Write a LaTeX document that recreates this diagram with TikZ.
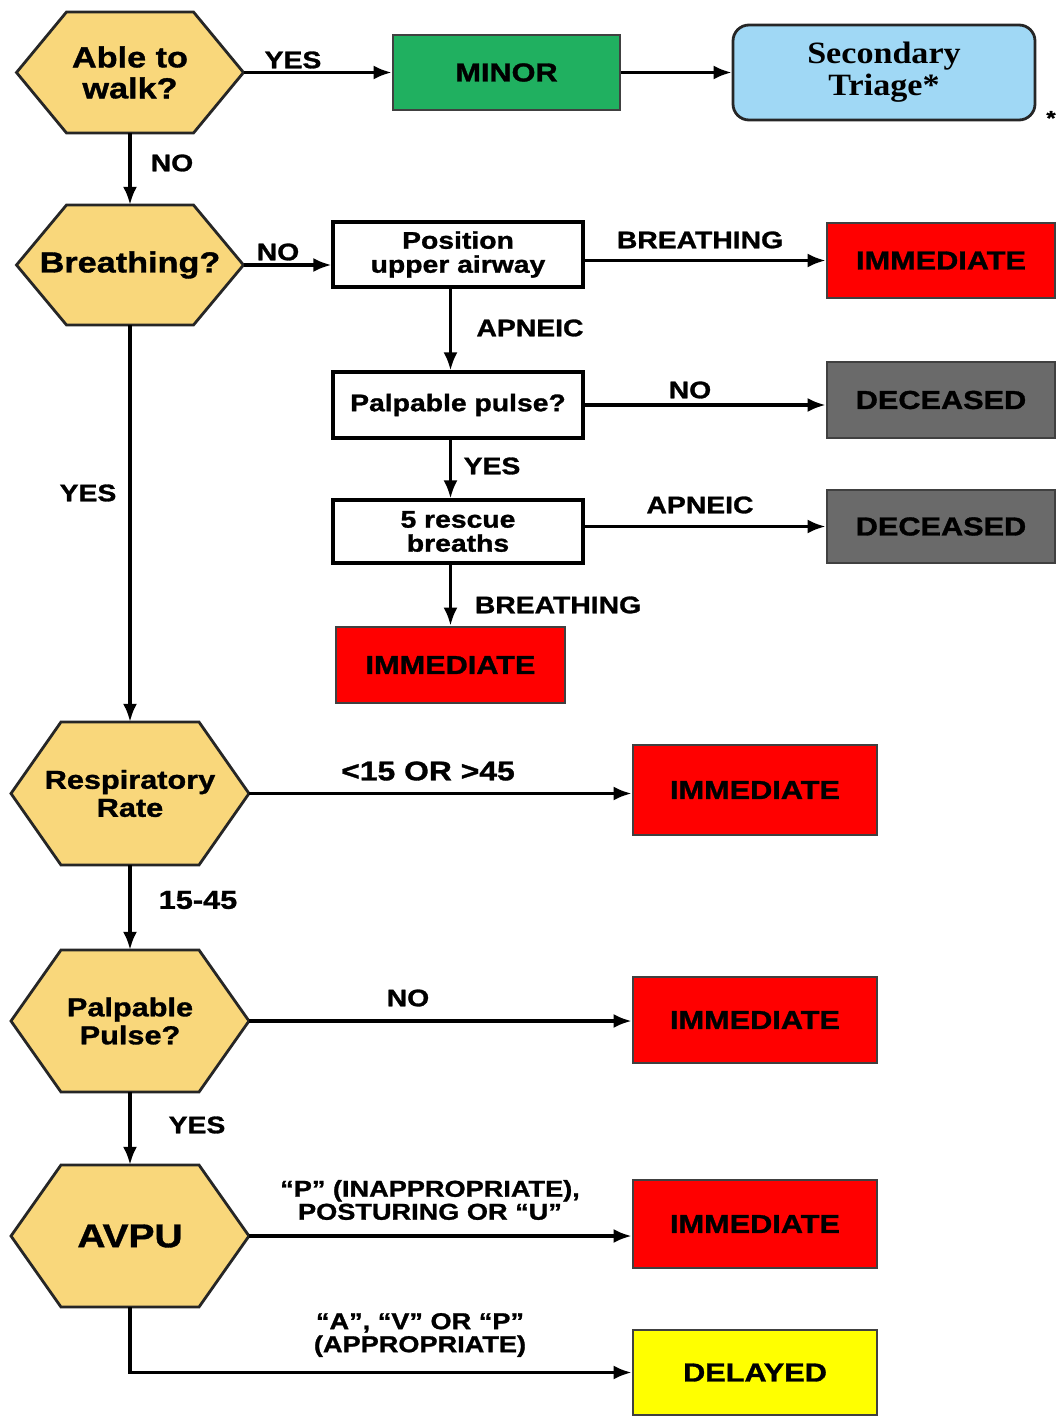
\documentclass[tikz,border=0pt]{standalone}
\usepackage{fontspec}
\setmainfont{Liberation Sans}[FakeStretch=1.18, BoldFeatures={FakeBold=1.2}]
\newfontfamily\serfont{Liberation Serif}[FakeStretch=1.1]
\usetikzlibrary{arrows.meta}
\definecolor{hexfill}{HTML}{F9D77B}
\definecolor{mingreen}{HTML}{20B060}
\definecolor{secblue}{HTML}{A0D8F5}
\definecolor{immred}{HTML}{FF0000}
\definecolor{decgray}{HTML}{6A6A6A}
\definecolor{delyel}{HTML}{FFFF00}
\newcommand{\fs}[1]{\fontsize{#1}{#1}\selectfont\bfseries}
% name, cx, cy, half width, half height, font size, text
\newcommand{\hexnode}[7]{%
  \filldraw[fill=hexfill, draw=black!85, line width=2.8pt, line join=miter]
    (#2-#4,#3) -- (#2-#4+50,#3-#5) -- (#2+#4-50,#3-#5) -- (#2+#4,#3)
    -- (#2+#4-50,#3+#5) -- (#2-#4+50,#3+#5) -- cycle;
  \node[inner sep=0pt, align=center, font=\fs{#6}, minimum width={2*#4pt}, minimum height={2*#5pt}] (#1) at (#2,#3) {#7};
}
\tikzset{
  flow/.style={line width=3.2pt, -{Latex[length=18pt,width=14pt]}},
  lbl/.style={inner sep=0pt, align=center, font=\fs{24}},
  proc/.style={draw=black, line width=3.2pt, fill=white, minimum width=250pt, align=center, inner sep=0pt, font=\fs{24}},
  outc/.style={draw=black!75, line width=2.8pt, align=center, inner sep=0pt, font=\fs{26}},
}
\begin{document}
\begin{tikzpicture}[x=1pt,y=-1pt]
\useasboundingbox[fill=white] (0,0) rectangle (1060,1418);

% decision hexagons
\hexnode{walk}{130}{72.5}{113.5}{60.5}{29}{Able to\\[2pt]walk?}
\hexnode{breath}{130}{265}{113.5}{60}{29}{Breathing?}
\hexnode{resp}{130}{793.5}{119}{71.5}{26}{Respiratory\\[2pt]Rate}
\hexnode{pulse}{130}{1021}{119}{71}{26}{Palpable\\[2pt]Pulse?}
\hexnode{avpu}{130}{1236}{119}{71}{33}{AVPU}

% outcome boxes
\node[outc, fill=mingreen, minimum width=227pt, minimum height=75pt] (minor) at (506.5,72.5) {MINOR};
\node[draw=black!85, line width=2.8pt, fill=secblue, rounded corners=16pt, minimum width=302pt, minimum height=95pt, align=center, inner sep=0pt, font=\serfont\fontsize{31}{32}\selectfont\bfseries] (sec) at (884,72.5) {Secondary\\Triage*};
\node[inner sep=0pt, font=\fontsize{20}{20}\selectfont\bfseries] (star) at (1051,118) {*};

\node[proc, minimum height=65pt] (pos) at (458,254.5) {Position\\upper airway};
\node[outc, fill=immred, minimum width=228pt, minimum height=75pt] (imm1) at (941,260.5) {IMMEDIATE};
\node[proc, minimum height=66pt] (pal) at (458,405) {Palpable pulse?};
\node[outc, fill=decgray, minimum width=228pt, minimum height=76pt] (dec1) at (941,400) {DECEASED};
\node[proc, minimum height=63pt] (resc) at (458,531.5) {5 rescue\\breaths};
\node[outc, fill=decgray, minimum width=228pt, minimum height=73pt] (dec2) at (941,526.5) {DECEASED};
\node[outc, fill=immred, minimum width=229pt, minimum height=76pt] (imm2) at (450.5,665) {IMMEDIATE};

\node[outc, fill=immred, minimum width=244pt, minimum height=90pt] (imm3) at (755,790) {IMMEDIATE};
\node[outc, fill=immred, minimum width=244pt, minimum height=86pt] (imm4) at (755,1020) {IMMEDIATE};
\node[outc, fill=immred, minimum width=244pt, minimum height=88pt] (imm5) at (755,1224) {IMMEDIATE};
\node[outc, fill=delyel, minimum width=244pt, minimum height=85pt] (del) at (755,1372.5) {DELAYED};

% connectors
\draw[flow] (walk.east) -- (minor.west);
\draw[flow] (minor.east) -- (sec.west);
\draw[flow] (walk.south) -- (breath.north);
\draw[flow] (breath.east) -- (breath.east -| pos.west);
\draw[flow] (pos.east |- imm1.west) -- (imm1.west);
\draw[flow] (pos.south -| imm2.north) -- (pal.north -| imm2.north);
\draw[flow] (pal.east) -- (pal.east -| dec1.west);
\draw[flow] (pal.south -| imm2.north) -- (resc.north -| imm2.north);
\draw[flow] (resc.east |- dec2.west) -- (dec2.west);
\draw[flow] (resc.south -| imm2.north) -- (imm2.north);
\draw[flow] (breath.south) -- (resp.north);
\draw[flow] (resp.east) -- (resp.east -| imm3.west);
\draw[flow] (resp.south) -- (pulse.north);
\draw[flow] (pulse.east) -- (pulse.east -| imm4.west);
\draw[flow] (pulse.south) -- (avpu.north);
\draw[flow] (avpu.east) -- (avpu.east -| imm5.west);
\draw[flow] (avpu.south) |- (del.west);

% labels
\node[lbl] (l1) at (293,60) {YES};
\node[lbl] (l2) at (172,163) {NO};
\node[lbl] (l3) at (278,252) {NO};
\node[lbl] (l4) at (700,240) {BREATHING};
\node[lbl] (l5) at (530,328) {APNEIC};
\node[lbl] (l6) at (690,390) {NO};
\node[lbl] (l7) at (492,466) {YES};
\node[lbl] (l8) at (700,505) {APNEIC};
\node[lbl] (l9) at (558,605) {BREATHING};
\node[lbl] (l10) at (88,493) {YES};
\node[lbl, font=\fs{27}] (l11) at (428,771) {<15 OR >45};
\node[lbl, font=\fs{26}] (l12) at (198,900) {15-45};
\node[lbl] (l13) at (408,998) {NO};
\node[lbl] (l14) at (197,1125) {YES};
\node[lbl, font=\fs{23}] (l15) at (430,1200) {“P” (INAPPROPRIATE),\\POSTURING OR “U”};
\node[lbl, font=\fs{23}] (l16) at (420,1335) {“A”, “V” OR “P”\\(APPROPRIATE)};
\end{tikzpicture}
\end{document}
